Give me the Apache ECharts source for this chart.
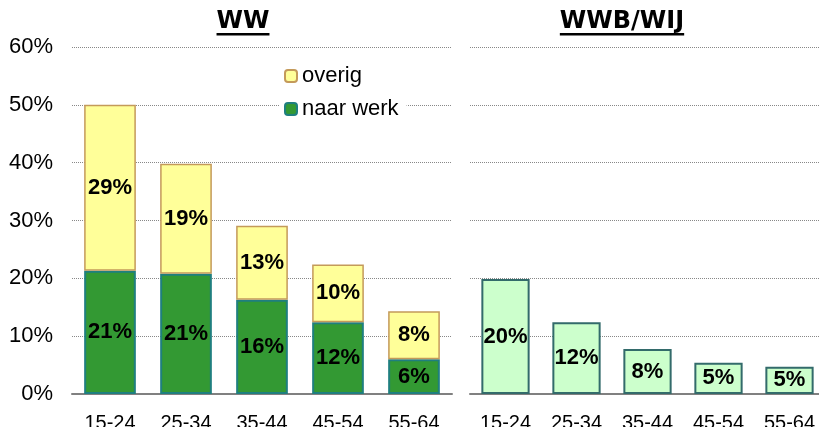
<!DOCTYPE html>
<html><head><meta charset="utf-8">
<script src="https://cdn.jsdelivr.net/npm/echarts@6/dist/echarts.min.js"></script>
<style>html,body{margin:0;padding:0;background:#fff}#c{width:819px;height:427px}</style>
</head><body><div id="c"></div>
<script>
const categories = ['15-24','25-34','35-44','45-54','55-64'];
const wwNaarWerk = [21.3, 20.8, 16.3, 12.4, 6.0];
const wwOverig = [28.7, 19.0, 12.8, 10.0, 8.3];
const wwbWij = [19.9, 12.4, 7.8, 5.4, 4.7];
const yTicks = [0, 10, 20, 30, 40, 50, 60];
const titles = ['WW', 'WWB/WIJ'];

const chart = echarts.init(document.getElementById('c'), null, {renderer:'canvas'});
const fontF = 'Arial, "Liberation Sans", sans-serif';
const titleFont = 'bold 24px "DejaVu Sans", Verdana, sans-serif';
const lbl = {show:true, position:'inside', color:'#000', fontWeight:'bold', fontSize:22, fontFamily:fontF,
  formatter: p => Math.round(p.value) + '%'};
const yAxisBase = (idx, showLabels) => ({
  type:'value', gridIndex:idx, min:yTicks[0], max:yTicks[yTicks.length-1], interval:10,
  axisLine:{show:false}, axisTick:{show:false},
  axisLabel:{show:showLabels, formatter:'{value}%', fontSize:22, color:'#000', fontFamily:fontF, margin:19},
  splitLine:{show:true, lineStyle:{color:'#888', type:'dotted', width:1}}
});
const xAxisBase = idx => ({
  type:'category', gridIndex:idx, data:categories,
  axisLine:{show:true, lineStyle:{color:'#808080', width:2}}, axisTick:{show:false},
  axisLabel:{fontSize:20, color:'#000', fontFamily:fontF, margin:19}
});
// measure title widths for underline
const ctx = document.createElement('canvas').getContext('2d');
ctx.font = titleFont;
const tCenters = [243, 622];
const graphics = [];
titles.forEach((t, i) => {
  const w = ctx.measureText(t).width;
  graphics.push({type:'text', x:tCenters[i], y:10, style:{text:t, font:titleFont, fill:'#000', textAlign:'center', textVerticalAlign:'top'}});
  graphics.push({type:'rect', shape:{x:tCenters[i]-w/2, y:33, width:w, height:2.5}, style:{fill:'#000'}});
});
chart.setOption({
  animation:false,
  backgroundColor:'#fff',
  graphic:graphics,
  legend:{
    orient:'vertical', left:280, top:61, data:['overig','naar werk'],
    backgroundColor:'#fff', padding:[4,8,4,4], itemGap:11, itemWidth:12, itemHeight:12,
    textStyle:{fontSize:22, color:'#000', fontFamily:fontF}
  },
  grid:[
    {left:72, width:380, top:47, bottom:33, outerBoundsMode:'none', containLabel:false},
    {left:470, width:355, top:47, bottom:33, outerBoundsMode:'none', containLabel:false}
  ],
  xAxis:[xAxisBase(0), xAxisBase(1)],
  yAxis:[yAxisBase(0,true), yAxisBase(1,false)],
  series:[
    {name:'naar werk', type:'bar', stack:'ww', xAxisIndex:0, yAxisIndex:0, data:wwNaarWerk, barWidth:'68%',
     itemStyle:{color:'#339933', borderColor:'#1f7f7f', borderWidth:2}, label:lbl},
    {name:'overig', type:'bar', stack:'ww', xAxisIndex:0, yAxisIndex:0, data:wwOverig, barWidth:'68%',
     itemStyle:{color:'#ffff99', borderColor:'#c49a5a', borderWidth:1.5}, label:lbl},
    {name:'WWB/WIJ', type:'bar', xAxisIndex:1, yAxisIndex:1, data:wwbWij, barWidth:'68%',
     itemStyle:{color:'#ccffcc', borderColor:'#336b6b', borderWidth:2}, label:lbl}
  ]
});
</script></body></html>
